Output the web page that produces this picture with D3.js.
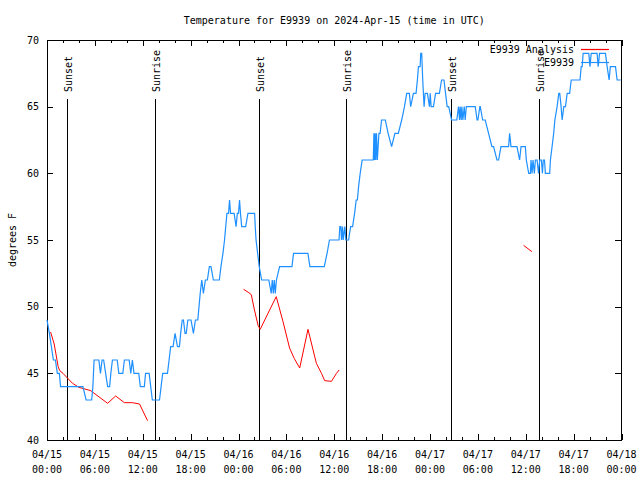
<!DOCTYPE html>
<html><head><meta charset="utf-8">
<script src="https://cdn.jsdelivr.net/npm/d3@7"></script>
<style>
body{margin:0;background:#fff}
svg text{font-family:"DejaVu Sans Mono",monospace;font-size:10px;fill:#000}
</style></head><body>
<svg id="c" width="640" height="480"></svg>
<script>
// ---------- data ----------
const titleText = "Temperature for E9939 on 2024-Apr-15 (time in UTC)";
const yAxisLabel = "degrees F";
const xTickHours = [0, 6, 12, 18, 24, 30, 36, 42, 48, 54, 60, 66, 72];
const xTickDates = ["04/15","04/15","04/15","04/15","04/16","04/16","04/16","04/16","04/17","04/17","04/17","04/17","04/18"];
const xTickTimes = ["00:00","06:00","12:00","18:00","00:00","06:00","12:00","18:00","00:00","06:00","12:00","18:00","00:00"];
const xMinorHours = [2,4,8,10,14,16,20,22,26,28,32,34,38,40,44,46,50,52,56,58,62,64,68,70];
const yTickValues = [40, 45, 50, 55, 60, 65, 70];
const sunHours = [2.45, 13.5, 26.53, 37.5, 50.68, 61.6];
const sunLabels = ["Sunset","Sunrise","Sunset","Sunrise","Sunset","Sunrise"];
const seriesNames = ["E9939 Analysis", "E9939"];

// observed temperature [hours since 04/15 00:00 UTC, deg F]
const obsSeries = [
[0,49],[0.3,48],[0.55,47],[0.8,46],[1.05,46],[1.3,45],[1.55,45],[1.7,44],
[4.5,44],[4.9,43],[5.6,43],[5.75,44],[5.9,46],[6.5,46],[6.7,45],[6.9,46],[7.1,46],[7.35,45],[7.6,44],[7.85,44],
[8.0,45],[8.2,46],[8.8,46],[9.0,45],[9.5,45],[9.7,46],[10.3,46],[10.5,45],[10.7,46],[10.9,45],[11.5,45],[11.7,44],
[12.2,44],[12.35,45],[12.8,45],[13.0,44],[13.2,43],[14.1,43],[14.3,44],[14.5,45],[15.1,45],[15.3,46],[15.5,47],[15.8,47],
[16.05,48],[16.35,47],[16.6,47],[16.75,48],[16.95,49],[17.1,49],[17.3,48],[17.45,48],[17.65,49],[18.05,49],[18.35,48],
[18.6,49],[18.9,49],[19.05,50],[19.2,51],[19.4,52],[19.6,51],[19.85,52],[20.1,52],[20.35,53],[20.55,53],[20.85,52],
[21.6,52],[21.8,53],[22.05,54],[22.25,55],[22.4,56],[22.55,57],[22.75,57],[22.88,58],[23.0,57],[23.45,57],[23.7,56],
[23.85,57],[24.0,57],[24.13,58],[24.25,57],[24.4,56],[24.9,56],[25.18,57],[26.02,57],[26.1,56],[26.2,55],[26.4,54],
[26.6,53],[26.9,52],[27.8,52],[28.1,51],[28.23,52],[28.36,51],[28.48,52],[28.61,51],[28.75,52],[29.15,53],[30.7,53],
[30.9,54],[32.7,54],[32.95,53],[34.75,53],[35.1,54],[35.4,55],[36.6,55],[36.7,56],[36.83,56],[36.91,55],[37.04,56],
[37.12,55],[37.33,56],[37.45,55],[37.8,55],[38.05,56],[38.3,56],[38.55,57],[38.75,58],[38.9,58],[39.05,59],[39.25,60],
[39.5,61],[40.89,61],[40.97,63],[41.05,61],[41.13,63],[41.21,61],[41.3,63],[41.4,61],[41.6,63],[41.75,63],[41.93,64],
[42.4,64],[42.75,63],[43.19,62],[43.6,63],[44.03,63],[44.45,64],[44.8,65],[45.08,66],[45.41,66],[45.58,65],[45.92,66],
[46.25,66],[46.42,67],[46.55,68],[46.76,68],[46.84,69],[46.96,69],[47.09,67],[47.26,65],[47.39,66],[47.68,66],[47.93,65],
[48.03,66],[48.14,65],[48.43,65],[48.7,66],[49.18,66],[49.45,67],[49.75,67],[49.95,66],[50.15,65],[50.35,65],[50.7,64],
[51.36,64],[51.57,65],[51.7,64],[51.78,65],[51.91,64],[51.99,65],[52.12,64],[52.29,65],[52.41,64],[52.55,65],[53.67,65],
[53.9,64],[54.0,64],[54.25,65],[54.3,65],[54.6,64],[54.92,64],[55.34,63],[55.76,62],[55.97,62],[56.39,61],[56.6,61],
[56.89,62],[57.85,62],[57.98,63],[58.15,62],[58.9,62],[59.23,61],[59.41,62],[59.95,62],[60.07,61],[60.37,60],[60.58,60],
[60.66,61],[60.79,60],[60.91,61],[61.08,60],[61.21,61],[61.42,61],[61.6,60],[61.75,61],[61.96,61],[62.09,60],[62.2,61],
[62.35,61],[62.46,60],[63.0,60],[63.09,61],[63.3,62],[63.5,63],[63.65,64],[63.93,65],[64.14,66],[64.26,66],[64.43,65],
[64.56,64],[64.77,65],[64.98,65],[65.19,66],[65.5,66],[65.7,67],[66.8,67],[66.95,68],[67.07,68],[67.19,69],[67.9,69],
[68.05,68],[68.2,69],[68.94,69],[69.08,68],[69.25,69],[69.99,69],[70.2,68],[70.45,67],[70.6,68],[71.25,68],[71.45,67],[71.9,67]
];

// analysis temperature (null = gap)
const analysisSeries = [
[0.45,48.1],[0.9,47.2],[1.4,45.5],[1.6,45.2],[2.0,45.0],[3.2,44.25],[4.0,43.95],[5.5,43.7],[5.7,43.6],[7.6,42.75],
[8.6,43.3],[9.7,42.8],[10.7,42.8],[11.6,42.7],[12.6,41.45],
[18,null],
[24.63,51.3],[25.3,51.05],[25.6,50.9],[26.0,49.75],[26.45,48.6],[26.72,48.3],[27.9,49.75],[28.73,50.75],[29.57,48.9],
[30.4,46.9],[31.0,46.1],[31.67,45.4],[32.71,48.3],[33.76,45.75],[34.4,45.0],[34.8,44.45],[35.65,44.4],[36.28,45.0],[36.61,45.25],
[48,null],
[59.73,54.6],[60.78,54.12]
];

// ---------- chart ----------
const svg = d3.select("#c");
const x = d3.scaleLinear().domain([0, 72]).range([47, 621.5]);
const y = d3.scaleLinear().domain([40, 70]).range([440, 40]);

svg.append("rect").attr("width",640).attr("height",480).attr("fill","#fff");

// sunrise / sunset markers
const sun = svg.append("g");
sunHours.forEach((h, i) => {
  const px = Math.round(x(h)) + 0.5;
  sun.append("line").attr("x1",px).attr("x2",px).attr("y1",99).attr("y2",440)
    .attr("stroke","#000").attr("stroke-width",1).attr("shape-rendering","crispEdges");
  sun.append("text").attr("transform",`translate(${px+0.5},92) rotate(-90)`)
    .attr("text-anchor","start").attr("dy","0.35em").text(sunLabels[i]);
});

// axes (inward ticks, mirrored)
function styleAxis(g){
  g.select(".domain").remove();
  g.selectAll("line").attr("stroke","#000").attr("shape-rendering","crispEdges");
  g.selectAll("text").style("font-family",'"DejaVu Sans Mono",monospace').style("font-size","10px").attr("fill","#000");
}
svg.append("g").attr("transform","translate(0,440)")
  .call(d3.axisBottom(x).tickValues(xTickHours).tickSizeInner(-6).tickSizeOuter(0).tickFormat(""))
  .call(styleAxis);
svg.append("g").attr("transform","translate(0,440)")
  .call(d3.axisBottom(x).tickValues(xMinorHours).tickSizeInner(-3).tickSizeOuter(0).tickFormat(""))
  .call(styleAxis);
svg.append("g").attr("transform","translate(0,40)")
  .call(d3.axisTop(x).tickValues(xTickHours).tickSizeInner(-6).tickSizeOuter(0).tickFormat(""))
  .call(styleAxis);
svg.append("g").attr("transform","translate(0,40)")
  .call(d3.axisTop(x).tickValues(xMinorHours).tickSizeInner(-3).tickSizeOuter(0).tickFormat(""))
  .call(styleAxis);
svg.append("g").attr("transform","translate(47,0)")
  .call(d3.axisLeft(y).tickValues(yTickValues).tickSizeInner(-6).tickSizeOuter(0).tickPadding(8).tickFormat(d3.format("d")))
  .call(styleAxis);
svg.append("g").attr("transform","translate(621,0)")
  .call(d3.axisRight(y).tickValues(yTickValues).tickSizeInner(-6).tickSizeOuter(0).tickFormat(""))
  .call(styleAxis);

// two-line x tick labels
const xl = svg.append("g");
xTickHours.forEach((h, i) => {
  const t = xl.append("text").attr("text-anchor","middle");
  t.append("tspan").attr("x", x(h)).attr("y", 458).text(xTickDates[i]);
  t.append("tspan").attr("x", x(h)).attr("y", 473).text(xTickTimes[i]);
});

// border
svg.append("rect").attr("x",47.5).attr("y",40.5).attr("width",574).attr("height",399.5)
  .attr("fill","none").attr("stroke","#000").attr("shape-rendering","crispEdges");

// series
const lineGen = d3.line().defined(d => d[1] != null).x(d => x(d[0])).y(d => y(d[1]));
svg.append("path").datum(analysisSeries).attr("d", lineGen)
  .attr("fill","none").attr("stroke","#ff0000").attr("stroke-width",1);
svg.append("path").datum(obsSeries).attr("d", lineGen)
  .attr("fill","none").attr("stroke","#1e90ff").attr("stroke-width",1.2);

// legend
const lg = svg.append("g");
const legendColors = ["#ff0000", "#1e90ff"];
seriesNames.forEach((n, i) => {
  const ly = 49.5 + i * 13;
  lg.append("text").attr("x",574).attr("y",ly).attr("dy","0.35em").attr("text-anchor","end").text(n);
  lg.append("line").attr("x1",581).attr("x2",609).attr("y1",ly).attr("y2",ly)
    .attr("stroke",legendColors[i]).attr("stroke-width",1.2);
});

// title and y label
svg.append("text").attr("x", (x(0)+x(72))/2).attr("y", 20).attr("dy","0.35em")
  .attr("text-anchor","middle").text(titleText);
svg.append("text").attr("transform","translate(12,240) rotate(-90)")
  .attr("text-anchor","middle").attr("dy","0.35em").text(yAxisLabel);
</script>
</body></html>
